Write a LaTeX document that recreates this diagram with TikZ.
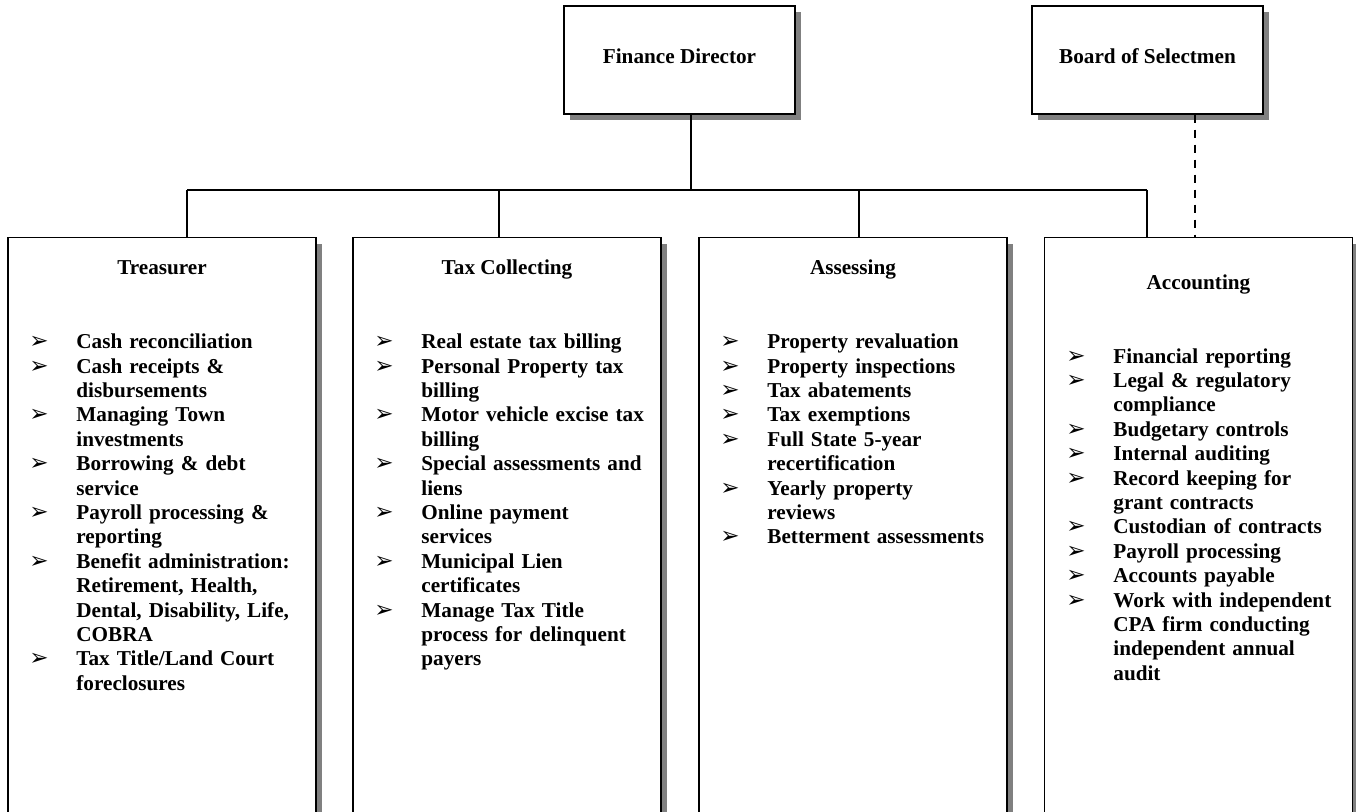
\documentclass[tikz,border=0pt]{standalone}
\usepackage{fontspec}
\setmainfont{Liberation Serif}
\newfontfamily\dingfont{DejaVu Sans}
\usetikzlibrary{positioning,calc,shadows}
\newcommand\bul{{\dingfont\fontsize{11.5pt}{12pt}\selectfont\symbol{"27A2}}}
\newcommand\itm{\hangindent=23.5pt\hangafter=1\noindent\makebox[23.5pt][l]{\bul}}

\begin{document}
\begin{tikzpicture}[x=0.5pt, y=-0.5pt,
    txt/.style={font=\bfseries\fontsize{10.6pt}{12.2pt}\selectfont},
    shade/.style={drop shadow={shadow xshift=2.8pt, shadow yshift=-3pt, fill=black!50, opacity=1}},
    topbox/.style={draw, line width=0.7pt, fill=white, shade, txt, minimum width=115.5pt, minimum height=54pt, text depth=4.2pt},
    dept/.style={draw, line width=0.7pt, fill=white, shade, anchor=north, minimum width=154pt, minimum height=330pt},
    dtitle/.style={txt, anchor=base, inner sep=0pt},
    items/.style={txt, anchor=north west, inner sep=0pt, text width=142pt, align=left},
    link/.style={line width=0.55pt},
    dashlink/.style={line width=0.55pt, dash pattern=on 4pt off 3.5pt}
]
\useasboundingbox (0,0) rectangle (1356,812);
\clip (0,0) rectangle (1356,812);

\node[topbox] (fd) at (679.5,60) {Finance Director};
\node[topbox] (bos) at (1147.5,60) {Board of Selectmen};

\node[dept] (treas) at (162,237) {};
\node[dept] (taxc) at (507,237) {};
\node[dept] (assess) at (853,237) {};
\node[dept] (acct) at (1198.5,237) {};

\coordinate (hub) at (691,190);
\coordinate (b1) at (187,190);
\coordinate (b2) at (499,190);
\coordinate (b3) at (859,190);
\coordinate (b4) at (1147,190);
\coordinate (dl) at (1195,190);

\draw[link] (fd.south -| hub) -- (hub);
\draw[link] (b1) -- (b4);
\draw[link] (b1) -- (b1 |- treas.north);
\draw[link] (b2) -- (b2 |- taxc.north);
\draw[link] (b3) -- (b3 |- assess.north);
\draw[link] (b4) -- (b4 |- acct.north);
\draw[dashlink] (bos.south -| dl) -- (dl |- acct.north);

\node[dtitle] (treast) at (162,275) {Treasurer};
\node[dtitle] (taxct) at (507,275) {Tax Collecting};
\node[dtitle] (assesst) at (853,275) {Assessing};
\node[dtitle] (acctt) at (1198.5,290) {Accounting};

\node[items] (treasl) at (29,333.5) {%
\itm Cash reconciliation\par
\itm Cash receipts \&\newline disbursements\par
\itm Managing Town\newline investments\par
\itm Borrowing \& debt\newline service\par
\itm Payroll processing \&\newline reporting\par
\itm Benefit administration:\newline Retirement, Health,\newline Dental, Disability, Life,\newline COBRA\par
\itm Tax Title/Land Court\newline foreclosures\par};

\node[items] (taxcl) at (374,333.5) {%
\itm Real estate tax billing\par
\itm Personal Property tax\newline billing\par
\itm Motor vehicle excise tax\newline billing\par
\itm Special assessments and\newline liens\par
\itm Online payment\newline services\par
\itm Municipal Lien\newline certificates\par
\itm Manage Tax Title\newline process for delinquent\newline payers\par};

\node[items] (assessl) at (720,333.5) {%
\itm Property revaluation\par
\itm Property inspections\par
\itm Tax abatements\par
\itm Tax exemptions\par
\itm Full State 5-year\newline recertification\par
\itm Yearly property\newline reviews\par
\itm Betterment assessments\par};

\node[items] (acctl) at (1066,348) {%
\itm Financial reporting\par
\itm Legal \& regulatory\newline compliance\par
\itm Budgetary controls\par
\itm Internal auditing\par
\itm Record keeping for\newline grant contracts\par
\itm Custodian of contracts\par
\itm Payroll processing\par
\itm Accounts payable\par
\itm Work with independent\newline CPA firm conducting\newline independent annual\newline audit\par};
\end{tikzpicture}
\end{document}
